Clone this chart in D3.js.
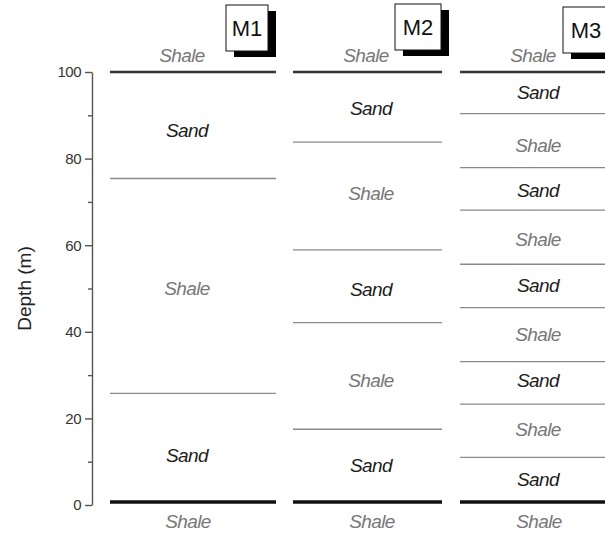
<!DOCTYPE html>
<html>
<head>
<meta charset="utf-8">
<script src="https://cdn.jsdelivr.net/npm/d3@7"></script>
<style>
  body { margin: 0; background: #fff; }
  svg { display: block; font-family: "Liberation Sans", Arial, sans-serif; }
</style>
</head>
<body>
<div class="chart"></div>
<script>
// well names
var wells = ["M1", "M2", "M3"];

// layer boundaries inside each well (depth in m)
var m1Bounds = [75.4, 25.8];
var m2Bounds = [83.8, 58.9, 42.1, 17.5];
var m3Bounds = [90.4, 77.9, 68.1, 55.6, 45.6, 33.1, 23.3, 11.0];

// lithology labels and the depth where each one sits
var m1Labels = ["Sand", "Shale", "Sand"];
var m1LabelDepth = [86.6, 50.1, 11.5];
var m2Labels = ["Sand", "Shale", "Sand", "Shale", "Sand"];
var m2LabelDepth = [91.5, 72.0, 49.7, 28.9, 9.2];
var m3Labels = ["Sand", "Shale", "Sand", "Shale", "Sand", "Shale", "Sand", "Shale", "Sand"];
var m3LabelDepth = [95.4, 83.1, 72.7, 61.4, 50.8, 39.5, 28.7, 17.5, 5.9];

// top and base of the section, and the shale above / below it
var topDepth = 100;
var baseDepth = 0.7;
var outerLabel = "Shale";
var aboveDepth = 103.9;
var belowDepth = -3.8;

// axis
var majorTicks = [0, 20, 40, 60, 80, 100];
var minorTicks = [10, 30, 50, 70, 90];
var yTitle = "Depth (m)";

var widthSVG = 605;
var heightSVG = 535;
var axisX = 92;

//layout of the three columns (pixels)
var colX = [[110, 276], [293, 442], [460, 616]];
var labelX = [187, 371, 538];
var boxPos = [[226, 5, 42, 46], [395, 4, 46, 46], [563, 7, 46, 46]];

var bounds = [m1Bounds, m2Bounds, m3Bounds];
var labels = [m1Labels, m2Labels, m3Labels];
var labelDepths = [m1LabelDepth, m2LabelDepth, m3LabelDepth];

var yScale = d3.scaleLinear()
    .domain([0, 100])
    .range([505, 72]);

var svg = d3.select(".chart")
    .append("svg")
    .attr("width", widthSVG)
    .attr("height", heightSVG);

// minor ticks
svg.append("g")
    .attr("class", "minor")
    .attr("transform", "translate(" + axisX + ",0)")
    .call(d3.axisLeft(yScale).tickValues(minorTicks).tickSize(4).tickSizeOuter(0).tickFormat(""))
    .call(function(g) { g.select(".domain").remove(); });

// major axis
var yAxis = svg.append("g")
    .attr("class", "coord y")
    .attr("transform", "translate(" + axisX + ",0)")
    .call(d3.axisLeft(yScale).tickValues(majorTicks).tickSize(7).tickSizeOuter(0).tickPadding(4));

yAxis.selectAll("text")
    .style("font-size", "15px")
    .style("letter-spacing", "-0.5px")
    .attr("fill", "#333");

svg.selectAll(".coord .domain, .coord line, .minor line")
    .attr("stroke", "#555")
    .attr("stroke-width", 1.4);

svg.append("text")
    .attr("text-anchor", "middle")
    .attr("transform", "translate(31," + ((yScale(0) + yScale(100)) / 2) + ") rotate(-90)")
    .style("font-size", "19px")
    .attr("fill", "#222")
    .text(yTitle);

// one group per well
wells.forEach(function(w, i) {
    var g = svg.append("g").attr("class", "well " + w);
    var x0 = colX[i][0], x1 = colX[i][1];

    // thin boundaries
    g.selectAll(".bound")
        .data(bounds[i])
        .enter()
        .append("line")
        .attr("class", "bound")
        .attr("x1", x0).attr("x2", x1)
        .attr("y1", function(d) { return yScale(d); })
        .attr("y2", function(d) { return yScale(d); })
        .attr("stroke", "#8a8a8a")
        .attr("stroke-width", 1.3);

    // thick top and base
    g.selectAll(".edge")
        .data([topDepth, baseDepth])
        .enter()
        .append("line")
        .attr("class", "edge")
        .attr("x1", x0).attr("x2", x1)
        .attr("y1", function(d) { return yScale(d); })
        .attr("y2", function(d) { return yScale(d); })
        .attr("stroke", function(d) { return d == topDepth ? "#333" : "#111"; })
        .attr("stroke-width", function(d) { return d == topDepth ? 2.4 : 3.4; });

    // lithology names
    g.selectAll(".lith")
        .data(labels[i])
        .enter()
        .append("text")
        .attr("class", "lith")
        .attr("x", labelX[i])
        .attr("y", function(d, j) { return yScale(labelDepths[i][j]); })
        .attr("dy", "0.35em")
        .attr("text-anchor", "middle")
        .style("font-size", "19px")
        .style("font-style", "italic")
        .style("letter-spacing", "-0.6px")
        .attr("fill", function(d) { return d == "Sand" ? "#1c1c1c" : "#777"; })
        .text(function(d) { return d; });

    // shale above and below
    g.selectAll(".outer")
        .data([aboveDepth, belowDepth])
        .enter()
        .append("text")
        .attr("class", "outer")
        .attr("x", function(d) { return d == aboveDepth ? labelX[i] - 5 : labelX[i] + 1; })
        .attr("y", function(d) { return yScale(d); })
        .attr("dy", "0.35em")
        .attr("text-anchor", "middle")
        .style("font-size", "19px")
        .style("font-style", "italic")
        .style("letter-spacing", "-0.6px")
        .attr("fill", "#777")
        .text(outerLabel);

    // name box with shadow
    var b = boxPos[i];
    g.append("rect")
        .attr("x", b[0] + 8).attr("y", b[1] + 6)
        .attr("width", b[2]).attr("height", b[3])
        .attr("fill", "#000");
    g.append("rect")
        .attr("x", b[0]).attr("y", b[1])
        .attr("width", b[2]).attr("height", b[3])
        .attr("fill", "#fff")
        .attr("stroke", "#111")
        .attr("stroke-width", 1);
    g.append("text")
        .attr("x", b[0] + b[2] / 2)
        .attr("y", b[1] + 31)
        .attr("text-anchor", "middle")
        .style("font-size", "22px")
        .attr("fill", "#111")
        .text(w);
});
</script>
</body>
</html>
